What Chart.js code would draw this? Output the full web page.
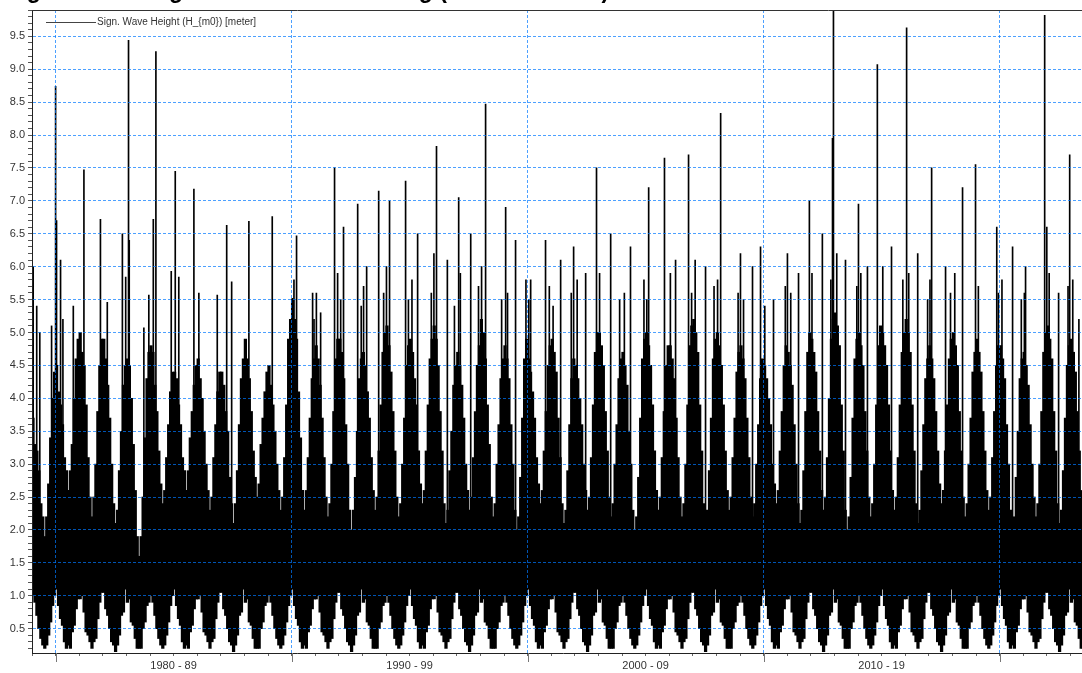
<!DOCTYPE html>
<html>
<head>
<meta charset="utf-8">
<title>Sign. Wave Height</title>
<script src="https://cdn.jsdelivr.net/npm/chart.js@4.4.1/dist/chart.umd.min.js"></script>
<style>
  html, body { margin: 0; padding: 0; background: #fff; overflow: hidden; }
  #wrap { position: relative; width: 1082px; height: 673px; overflow: hidden; }
  canvas { display: block; }
</style>
</head>
<body>
<div id="wrap"><canvas id="chart" width="1100" height="673"></canvas></div>
<script>
// first year of the record, one row of 12 months per year below
const firstYear = 1979;

// top of the dense band for each month [m]
const monthHigh = [
  [3.7,3.3,3.2,2.9,2.4,2.2,1.9,2.2,2.7,3.4,4.0,4.4], // 1979
  [4.5,4.1,3.9,3.6,3.1,2.9,2.6,2.9,3.3,4.0,4.6,4.9],
  [5.0,4.7,4.5,3.9,3.1,2.5,2.2,2.5,3.0,3.8,4.5,4.9],
  [4.9,4.6,4.2,3.7,3.0,2.4,2.1,2.3,2.9,3.5,4.2,4.5],
  [4.6,4.5,4.0,3.3,2.6,1.9,1.6,1.9,2.5,3.4,4.3,4.7],
  [4.8,4.7,4.2,3.8,3.2,2.7,2.4,2.6,3.1,3.6,4.1,4.4],
  [4.4,4.3,3.9,3.6,3.1,2.9,2.6,2.9,3.4,3.8,4.2,4.5],
  [4.6,4.3,4.0,3.5,3.0,2.6,2.3,2.5,3.1,3.6,4.1,4.4],
  [4.4,4.2,3.8,3.5,2.8,2.4,2.1,2.4,2.9,3.6,4.3,4.6],
  [4.9,4.6,4.3,3.8,3.2,2.8,2.5,2.7,3.3,3.7,4.1,4.4],
  [4.5,4.2,3.9,3.5,3.0,2.6,2.3,2.5,3.1,3.9,4.9,5.2], // 1989
  [5.5,5.2,4.9,4.1,3.4,2.6,2.3,2.6,3.1,3.7,4.3,4.6],
  [4.8,4.6,4.2,3.7,3.1,2.5,2.2,2.4,3.0,3.8,4.6,4.9],
  [4.9,4.7,4.3,3.6,3.0,2.3,2.0,2.3,2.8,3.5,4.3,4.6],
  [4.7,4.5,4.1,3.7,3.1,2.6,2.3,2.5,3.2,3.9,4.7,5.0],
  [5.1,4.8,4.4,3.8,3.2,2.5,2.2,2.4,3.0,3.7,4.5,4.8],
  [4.9,4.7,4.3,3.9,3.2,2.7,2.4,2.6,3.2,3.9,4.6,4.9],
  [5.1,4.9,4.5,3.8,3.2,2.4,2.1,2.3,2.9,3.5,4.2,4.5],
  [4.7,4.5,4.2,3.7,3.0,2.6,2.3,2.5,3.1,3.8,4.5,4.8],
  [5.2,5.0,4.6,3.9,3.3,2.5,2.2,2.4,3.0,3.6,4.3,4.6],
  [4.8,4.6,4.3,3.6,3.0,2.3,2.0,2.2,2.8,3.7,4.6,4.9], // 1999
  [4.6,4.4,4.1,3.7,3.1,2.7,2.4,2.6,3.2,3.8,4.5,4.8],
  [4.9,4.7,4.4,3.7,3.1,2.4,2.1,2.3,2.9,3.6,4.3,4.6],
  [4.5,4.3,4.0,3.6,3.0,2.6,2.3,2.5,3.1,3.9,4.7,5.0],
  [5.0,4.8,4.5,3.8,3.2,2.5,2.2,2.4,3.0,3.6,4.3,4.6],
  [4.7,4.5,4.2,3.5,3.0,2.3,2.0,2.2,2.8,3.7,4.6,4.9],
  [5.0,4.8,4.5,3.9,3.2,2.6,2.3,2.5,3.1,3.8,4.5,4.8],
  [4.8,4.6,4.3,3.7,3.1,2.5,2.2,2.4,3.0,3.9,4.8,5.1],
  [5.2,5.0,4.7,3.9,3.2,2.4,2.1,2.3,2.9,3.7,4.6,4.9],
  [5.0,4.8,4.5,3.9,3.2,2.6,2.3,2.5,3.1,3.7,4.4,4.7],
  [4.8,4.6,4.3,3.7,3.1,2.5,2.2,2.4,3.0,3.6,4.3,4.6], // 2009
  [4.5,4.3,4.0,3.6,3.0,2.7,2.4,2.6,3.2,3.8,4.5,4.8],
  [4.7,4.5,4.2,3.6,3.0,2.4,2.1,2.3,2.9,3.8,4.7,5.0],
  [4.9,4.7,4.4,3.8,3.2,2.6,2.3,2.5,3.1,4.0,4.9,5.2],
  [5.3,5.1,4.8,3.9,3.2,2.3,2.0,2.2,2.8,3.7,4.6,4.9],
  [5.0,4.8,4.5,3.8,3.2,2.5,2.2,2.4,3.0,3.9,4.8,5.1],
  [5.0,4.8,4.5,3.9,3.2,2.6,2.3,2.5,3.1,3.9,4.7,5.0],
  [5.2,5.0,4.7,3.9,3.2,2.4,2.1,2.3,2.9,3.6,4.3,4.6],
  [4.8,4.6,4.3,3.8,3.2,2.7,2.4,2.6,3.2,3.9,4.6,4.9],
  [5.0,4.8,4.5,3.8,3.2,2.5,2.2,2.4,3.0,3.7,4.4,4.7],
  [4.9,4.7,4.4,3.8,3.2,2.6,2.3,2.5,3.1,3.8,4.5,4.8], // 2019
  [4.8,4.6,4.3,3.6,3.0,2.3,2.0,2.2,2.8,3.5,4.3,4.6],
  [4.7,4.5,4.2,3.6,3.0,2.5,2.2,2.4,3.0,3.8,4.7,5.0],
  [5.1,4.9,4.6,3.8,3.2,2.4,2.1,2.3,2.9,3.7,4.5,4.8],
  [4.9,4.7,4.4,3.8,3.2,2.6,2.3,2.5,3.1,3.6,4.2,4.5]  // 2023
];

// bottom of the dense band for each month [m]
const monthLow = [
  [1.0,0.9,0.7,0.5,0.35,0.25,0.2,0.25,0.4,0.6,0.85,1.0], // 1979
  [1.1,0.85,0.65,0.55,0.3,0.2,0.25,0.2,0.45,0.55,0.8,0.95],
  [0.95,1.0,0.75,0.45,0.4,0.3,0.2,0.3,0.35,0.65,0.9,1.05],
  [1.05,0.8,0.7,0.5,0.3,0.25,0.15,0.25,0.4,0.7,0.75,1.1],
  [0.9,0.95,0.6,0.55,0.35,0.2,0.2,0.2,0.5,0.6,0.85,0.9],
  [1.0,0.9,0.7,0.5,0.35,0.25,0.2,0.25,0.4,0.6,0.85,1.0],
  [1.1,0.85,0.65,0.55,0.3,0.2,0.25,0.2,0.45,0.55,0.8,0.95],
  [0.95,1.0,0.75,0.45,0.4,0.3,0.2,0.3,0.35,0.65,0.9,1.05],
  [1.05,0.8,0.7,0.5,0.3,0.25,0.15,0.25,0.4,0.7,0.75,1.1],
  [0.9,0.95,0.6,0.55,0.35,0.2,0.2,0.2,0.5,0.6,0.85,0.9],
  [1.0,0.9,0.7,0.5,0.35,0.25,0.2,0.25,0.4,0.6,0.85,1.0], // 1989
  [1.1,0.85,0.65,0.55,0.3,0.2,0.25,0.2,0.45,0.55,0.8,0.95],
  [0.95,1.0,0.75,0.45,0.4,0.3,0.2,0.3,0.35,0.65,0.9,1.05],
  [1.05,0.8,0.7,0.5,0.3,0.25,0.15,0.25,0.4,0.7,0.75,1.1],
  [0.9,0.95,0.6,0.55,0.35,0.2,0.2,0.2,0.5,0.6,0.85,0.9],
  [1.0,0.9,0.7,0.5,0.35,0.25,0.2,0.25,0.4,0.6,0.85,1.0],
  [1.1,0.85,0.65,0.55,0.3,0.2,0.25,0.2,0.45,0.55,0.8,0.95],
  [0.95,1.0,0.75,0.45,0.4,0.3,0.2,0.3,0.35,0.65,0.9,1.05],
  [1.05,0.8,0.7,0.5,0.3,0.25,0.15,0.25,0.4,0.7,0.75,1.1],
  [0.9,0.95,0.6,0.55,0.35,0.2,0.2,0.2,0.5,0.6,0.85,0.9],
  [1.0,0.9,0.7,0.5,0.35,0.25,0.2,0.25,0.4,0.6,0.85,1.0], // 1999
  [1.1,0.85,0.65,0.55,0.3,0.2,0.25,0.2,0.45,0.55,0.8,0.95],
  [0.95,1.0,0.75,0.45,0.4,0.3,0.2,0.3,0.35,0.65,0.9,1.05],
  [1.05,0.8,0.7,0.5,0.3,0.25,0.15,0.25,0.4,0.7,0.75,1.1],
  [0.9,0.95,0.6,0.55,0.35,0.2,0.2,0.2,0.5,0.6,0.85,0.9],
  [1.0,0.9,0.7,0.5,0.35,0.25,0.2,0.25,0.4,0.6,0.85,1.0],
  [1.1,0.85,0.65,0.55,0.3,0.2,0.25,0.2,0.45,0.55,0.8,0.95],
  [0.95,1.0,0.75,0.45,0.4,0.3,0.2,0.3,0.35,0.65,0.9,1.05],
  [1.05,0.8,0.7,0.5,0.3,0.25,0.15,0.25,0.4,0.7,0.75,1.1],
  [0.9,0.95,0.6,0.55,0.35,0.2,0.2,0.2,0.5,0.6,0.85,0.9],
  [1.0,0.9,0.7,0.5,0.35,0.25,0.2,0.25,0.4,0.6,0.85,1.0], // 2009
  [1.1,0.85,0.65,0.55,0.3,0.2,0.25,0.2,0.45,0.55,0.8,0.95],
  [0.95,1.0,0.75,0.45,0.4,0.3,0.2,0.3,0.35,0.65,0.9,1.05],
  [1.05,0.8,0.7,0.5,0.3,0.25,0.15,0.25,0.4,0.7,0.75,1.1],
  [0.9,0.95,0.6,0.55,0.35,0.2,0.2,0.2,0.5,0.6,0.85,0.9],
  [1.0,0.9,0.7,0.5,0.35,0.25,0.2,0.25,0.4,0.6,0.85,1.0],
  [1.1,0.85,0.65,0.55,0.3,0.2,0.25,0.2,0.45,0.55,0.8,0.95],
  [0.95,1.0,0.75,0.45,0.4,0.3,0.2,0.3,0.35,0.65,0.9,1.05],
  [1.05,0.8,0.7,0.5,0.3,0.25,0.15,0.25,0.4,0.7,0.75,1.1],
  [0.9,0.95,0.6,0.55,0.35,0.2,0.2,0.2,0.5,0.6,0.85,0.9],
  [1.0,0.9,0.7,0.5,0.35,0.25,0.2,0.25,0.4,0.6,0.85,1.0], // 2019
  [1.1,0.85,0.65,0.55,0.3,0.2,0.25,0.2,0.45,0.55,0.8,0.95],
  [0.95,1.0,0.75,0.45,0.4,0.3,0.2,0.3,0.35,0.65,0.9,1.05],
  [1.05,0.8,0.7,0.5,0.3,0.25,0.15,0.25,0.4,0.7,0.75,1.1],
  [0.9,0.95,0.6,0.55,0.35,0.2,0.2,0.2,0.5,0.6,0.85,0.9]  // 2023
];

// big storm peaks sticking out of the band (decimal year, Hm0 in m)
const stormTimes = [
  1979.05, 1979.20, 1979.33, 1979.83, 1980.00, 1980.04, 1980.21, 1980.31, 1980.75, 1981.03,
  1981.20, 1981.90, 1982.19, 1982.83, 1982.97, 1983.09, 1983.12, 1983.74, 1983.95, 1984.14,
  1984.25, 1984.90, 1985.07, 1985.22, 1985.86, 1986.07, 1986.85, 1987.25, 1987.46, 1988.19,
  1989.18, 1990.03, 1990.21, 1990.89, 1991.23, 1991.82, 1992.20, 1992.80, 1993.18, 1993.69,
  1994.15, 1994.83, 1995.34, 1996.14, 1996.60, 1997.08, 1997.59, 1998.22, 1999.07, 1999.49,
  2000.13, 2000.76, 2001.40, 2001.95, 2002.46, 2002.92, 2003.52, 2004.36, 2005.13, 2005.80,
  2006.27, 2006.82, 2007.54, 2008.18, 2009.02, 2009.53, 2009.87, 2010.42, 2011.01, 2011.48,
  2011.94, 2012.49, 2012.92, 2012.96, 2013.47, 2014.02, 2014.40, 2014.82, 2015.42, 2016.06,
  2016.53, 2017.12, 2017.71, 2018.43, 2018.98, 2019.88, 2020.55, 2021.10, 2021.91, 2022.00,
  2022.50, 2022.97, 2023.36
];
const stormPeaks = [
  6.0, 5.4, 5.0, 5.1, 8.74, 6.7, 6.1, 5.2, 5.4, 5.0,
  7.47, 6.72, 5.46, 6.5, 5.84, 9.44, 6.4, 5.07, 5.57, 6.72,
  9.27, 5.93, 7.45, 5.84, 7.18, 5.6, 5.57, 6.63, 5.77, 6.69,
  6.76, 5.52, 6.47, 5.6, 5.3, 7.5, 6.6, 6.95, 6.0, 7.15,
  7.0, 7.3, 6.5, 7.83, 6.1, 7.05, 6.5, 8.47, 6.9, 6.4,
  5.8, 6.4, 6.1, 6.3, 5.9, 7.5, 6.5, 6.3, 7.2, 7.65,
  6.1, 7.7, 6.0, 8.33, 6.2, 6.0, 6.3, 5.5, 6.2, 5.9,
  7.0, 6.5, 7.95, 9.9, 6.1, 6.95, 6.0, 9.07, 6.3, 9.63,
  6.2, 7.5, 6.0, 7.2, 7.55, 6.6, 6.3, 6.0, 9.82, 6.6,
  5.6, 7.7, 5.2
];

// smaller winter storms just above the band
const minorStormTimes = [
  1990.10, 1990.95, 1991.05, 1991.95, 1992.08, 1992.95, 1993.05, 1993.90, 1994.02, 1994.95,
  1995.10, 1995.92, 1996.03, 1996.90, 1997.15, 1997.92, 1998.05, 1998.90, 1999.15, 1999.93,
  2000.05, 2000.92, 2001.08, 2001.85, 2002.10, 2003.05, 2003.90, 2004.10, 2004.93, 2005.05,
  2006.05, 2006.95, 2007.10, 2007.90, 2008.05, 2008.92, 2009.15, 2010.05, 2010.92, 2011.15,
  2012.05, 2012.85, 2013.10, 2013.95, 2014.12, 2015.05, 2015.90, 2016.15, 2016.95, 2017.05,
  2017.92, 2018.10, 2019.10, 2019.95, 2020.10, 2020.92, 2021.05, 2022.10, 2022.90, 2023.10
];
const minorStormPeaks = [
  5.8, 5.2, 5.6, 5.9, 5.5, 5.4, 5.7, 5.6, 6.0, 5.5,
  5.8, 5.6, 6.2, 5.4, 5.9, 5.7, 6.0, 5.5, 5.6, 5.8,
  5.5, 5.7, 5.4, 5.6, 5.8, 5.9, 5.5, 5.6, 5.8, 5.5,
  5.9, 5.6, 6.1, 5.7, 5.8, 5.6, 5.5, 5.4, 5.7, 5.6,
  5.9, 5.8, 6.2, 5.7, 5.9, 6.0, 5.8, 5.9, 5.5, 5.8,
  5.6, 5.9, 5.7, 5.6, 5.8, 5.5, 5.6, 5.9, 5.7, 5.8
];
const stormBase = 1.5;

const decadeLabels = ['1980 - 89', '1990 - 99', '2000 - 09', '2010 - 19', '2020 - 29'];
const legendLabel = 'Sign. Wave Height (H_{m0}) [meter]';
const titleText = 'Sign. Wave Height Timeseries at Viking (1979 - 06/2023)';

// dense band: one floating bar from the monthly low to the monthly high
const bandBars = [];
monthHigh.forEach((row, yi) => {
  row.forEach((hi, m) => {
    bandBars.push({ x: firstYear + yi + (m + 0.5) / 12, y: [monthLow[yi][m], hi] });
  });
});
const stormBars = stormTimes.map((t, i) => ({ x: t, y: [stormBase, stormPeaks[i]] }))
  .concat(minorStormTimes.map((t, i) => ({ x: t, y: [stormBase, minorStormPeaks[i]] })));

const gridBlue = 'rgba(0, 120, 255, 0.7)';
const axisFont = { family: 'Arial, "Liberation Sans", sans-serif', size: 11 };

const decorations = {
  id: 'decorations',
  afterDraw(chart) {
    const { ctx, chartArea: a, scales: { x } } = chart;
    ctx.save();
    // top frame line
    ctx.strokeStyle = '#333';
    ctx.lineWidth = 1;
    ctx.beginPath();
    ctx.moveTo(a.left, a.top + 0.5);
    ctx.lineTo(a.right, a.top + 0.5);
    ctx.stroke();
    // long decade ticks
    ctx.strokeStyle = '#777';
    ctx.beginPath();
    for (let d = 1980; d <= 2020; d += 10) {
      const px = Math.round(x.getPixelForValue(d)) + 0.5;
      ctx.moveTo(px, a.bottom);
      ctx.lineTo(px, a.bottom + 9);
    }
    ctx.stroke();
    // legend
    ctx.strokeStyle = '#444';
    ctx.beginPath();
    ctx.moveTo(a.left + 14, 22.5);
    ctx.lineTo(a.left + 64, 22.5);
    ctx.stroke();
    ctx.fillStyle = '#333';
    ctx.font = '10px Arial, "Liberation Sans", sans-serif';
    ctx.textBaseline = 'middle';
    ctx.fillText(legendLabel, a.left + 65, 22);
    // title, mostly above the visible area
    ctx.fillStyle = '#000';
    ctx.font = 'bold 23px Arial, "Liberation Sans", sans-serif';
    ctx.textBaseline = 'alphabetic';
    ctx.fillText(titleText, 5, -2.5);
    ctx.restore();
  }
};

new Chart(document.getElementById('chart'), {
  type: 'line',
  data: {
    datasets: [
      {
        type: 'bar',
        label: legendLabel,
        data: bandBars,
        backgroundColor: '#000',
        barThickness: 2.6,
        grouped: false,
        order: 1
      },
      {
        type: 'bar',
        label: 'peaks',
        data: stormBars,
        backgroundColor: '#000',
        barThickness: 1,
        grouped: false,
        order: 2
      }
    ]
  },
  options: {
    responsive: false,
    devicePixelRatio: 1,
    animation: false,
    events: [],
    layout: { padding: { top: 10, right: 6, left: 0, bottom: 0 } },
    plugins: { legend: { display: false }, tooltip: { enabled: false }, title: { display: false } },
    scales: {
      x: {
        type: 'linear',
        min: 1979,
        max: 2024,
        offset: false,
        afterFit(scale) { scale.height = 20; },
        ticks: {
          stepSize: 1,
          autoSkip: false,
          maxRotation: 0,
          padding: 3,
          color: '#333',
          font: axisFont,
          callback(v) {
            return v % 10 === 5 ? decadeLabels[(v - 1985) / 10] : '';
          }
        },
        grid: {
          z: 1,
          offset: false,
          color: ctx => (ctx.tick && ctx.tick.value % 10 === 0) ? gridBlue : 'transparent',
          tickColor: '#666',
          tickLength: 3
        },
        border: { color: '#222', width: 1, dash: [3, 2], z: 1 }
      },
      y: {
        type: 'linear',
        min: 0.13,
        max: 9.9,
        afterFit(scale) { scale.width = 32; },
        ticks: {
          stepSize: 0.1,
          includeBounds: false,
          autoSkip: false,
          padding: 3,
          color: '#333',
          font: axisFont,
          callback(v) {
            const r = Math.round(v * 10);
            return r % 5 === 0 ? (r / 10).toFixed(1) : '';
          }
        },
        grid: {
          z: 1,
          color: ctx => (ctx.tick && Math.round(ctx.tick.value * 10) % 5 === 0) ? gridBlue : 'transparent',
          tickColor: '#555',
          tickLength: 4
        },
        border: { color: '#222', width: 1, dash: [3, 2], z: 1 }
      }
    }
  },
  plugins: [decorations]
});
</script>
</body>
</html>
